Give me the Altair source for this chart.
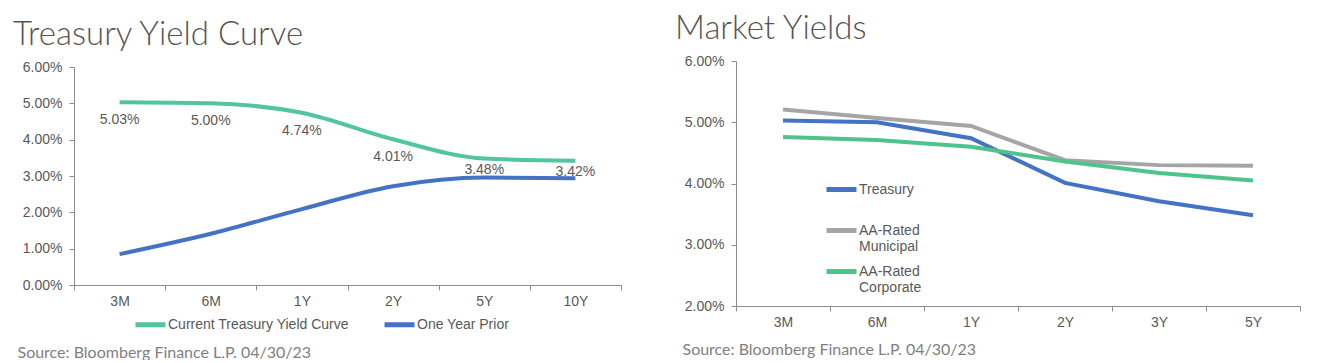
import altair as alt
import pandas as pd

# ---- Treasury Yield Curve (left) ----
tenors_left = ["3M", "6M", "1Y", "2Y", "5Y", "10Y"]
current_curve = [5.03, 5.00, 4.74, 4.01, 3.48, 3.42]
one_year_prior = [0.85, 1.41, 2.09, 2.72, 2.96, 2.94]
left_series = ["Current Treasury Yield Curve", "One Year Prior"]
left_colors = ["#52C4A0", "#4472C4"]

# ---- Market Yields (right) ----
tenors_right = ["3M", "6M", "1Y", "2Y", "3Y", "5Y"]
treasury = [5.03, 5.00, 4.74, 4.01, 3.71, 3.48]
municipal = [5.21, 5.07, 4.94, 4.38, 4.30, 4.29]
corporate = [4.76, 4.71, 4.60, 4.36, 4.17, 4.05]
right_series = ["Treasury", "AA-Rated Municipal", "AA-Rated Corporate"]
right_colors = ["#4472C4", "#A5A5A5", "#4DC48A"]

left_ticks = [0, 1, 2, 3, 4, 5, 6]
right_ticks = [2, 3, 4, 5, 6]
source_text = "Source: Bloomberg Finance L.P. 04/30/23"

left_df = pd.DataFrame(
    [{"tenor": t, "series": left_series[0], "value": v, "order": i}
     for i, (t, v) in enumerate(zip(tenors_left, current_curve))]
    + [{"tenor": t, "series": left_series[1], "value": v, "order": i}
       for i, (t, v) in enumerate(zip(tenors_left, one_year_prior))]
)
right_rows = []
for name, vals in zip(right_series, [treasury, municipal, corporate]):
    for i, (t, v) in enumerate(zip(tenors_right, vals)):
        right_rows.append({"tenor": t, "series": name, "value": v, "order": i})
right_df = pd.DataFrame(right_rows)

label_font = "Liberation Sans"
title_font = "Lato"
gray = "#595959"
axis_gray = "#8C8C8C"
pct_expr = "format(datum.value, '.2f') + '%'"


def x_enc(tenors, titleX, titleY):
    return alt.X(
        "tenor:N", sort=tenors,
        scale=alt.Scale(paddingInner=0, paddingOuter=0),
        axis=alt.Axis(
            title=source_text, titleFont=title_font, titleFontSize=16,
            titleFontWeight="normal", titleColor="#7F7F7F",
            titleAnchor="start", titleAlign="left", titleBaseline="alphabetic",
            titleX=titleX, titleY=titleY,
            labelAngle=0, tickBand="extent", labelPadding=4,
        ),
    )


def y_enc(ticks, rng=None):
    sc = dict(domain=[ticks[0], ticks[-1]], nice=False, zero=False)
    if rng is not None:
        sc["range"] = rng
    return alt.Y(
        "value:Q",
        scale=alt.Scale(**sc),
        axis=alt.Axis(values=ticks, labelExpr=pct_expr, title=None, grid=False,
                      minExtent=61, maxExtent=61, labelPadding=7),
    )


# Left chart: plot box 224 tall, the 0-6% scale occupies its lower 218 px
left_y = y_enc(left_ticks, [224, 6])
left_x = x_enc(tenors_left, -57, 72)
left_base = alt.Chart(left_df)
left_lines = left_base.mark_line(strokeWidth=4, interpolate="monotone").encode(
    x=left_x,
    y=left_y,
    color=alt.Color(
        "series:N",
        scale=alt.Scale(domain=left_series, range=left_colors),
        legend=alt.Legend(
            title=None, orient="none", legendX=59, legendY=246,
            direction="horizontal", columns=2, symbolType="stroke",
            symbolSize=900, symbolStrokeWidth=5, labelOffset=0,
            columnPadding=24, labelFont=label_font, labelFontSize=14,
            labelColor=gray, labelLimit=400,
        ),
    ),
    order="order:O",
)
cur = left_base.transform_filter(alt.datum.series == left_series[0]).transform_calculate(
    lbl="format(datum.value, '.2f') + '%'"
)
lab_a = cur.transform_filter(alt.datum.order < 4).mark_text(
    dy=18, font=label_font, fontSize=14, color=gray
).encode(x=left_x, y=left_y, text="lbl:N")
lab_b = cur.transform_filter(alt.datum.order >= 4).mark_text(
    dy=11, font=label_font, fontSize=14, color=gray
).encode(x=left_x, y=left_y, text="lbl:N")

left = alt.layer(left_lines, lab_a, lab_b).properties(
    width=547, height=224,
    title=alt.TitleParams("Treasury Yield Curve", anchor="start", offset=8,
                          font=title_font, fontSize=33, fontWeight=300,
                          color="#555555"),
)

# Right chart
right = alt.Chart(right_df).mark_line(strokeWidth=4).encode(
    x=x_enc(tenors_right, -54, 48),
    y=y_enc(right_ticks),
    color=alt.Color(
        "series:N",
        scale=alt.Scale(domain=right_series, range=right_colors),
        legend=alt.Legend(
            title=None, orient="none", legendX=88, legendY=111,
            direction="vertical", symbolType="stroke", symbolSize=900,
            symbolStrokeWidth=5, labelOffset=0, rowPadding=-3,
            labelFont=label_font, labelFontSize=14, labelColor=gray,
            labelExpr="datum.label == 'Treasury' ? ['Treasury', ''] : split(datum.label, ' ')",
        ),
    ),
    order="order:O",
).properties(
    width=564, height=245,
    title=alt.TitleParams("Market Yields", anchor="start", offset=8,
                          font=title_font, fontSize=33, fontWeight=300,
                          color="#555555"),
)

chart = alt.hconcat(left, right, spacing=53).resolve_scale(
    color="independent", x="independent", y="independent"
).resolve_legend(color="independent").properties(
    background="white",
    padding={"left": 5, "top": 5, "right": 5, "bottom": 0},
).configure_view(stroke=None).configure_axis(
    labelFont=label_font, labelFontSize=14, labelColor=gray,
    domainColor=axis_gray, tickColor=axis_gray, tickSize=5,
)

chart.save("out.html", embed_options={"renderer": "svg", "actions": False})
